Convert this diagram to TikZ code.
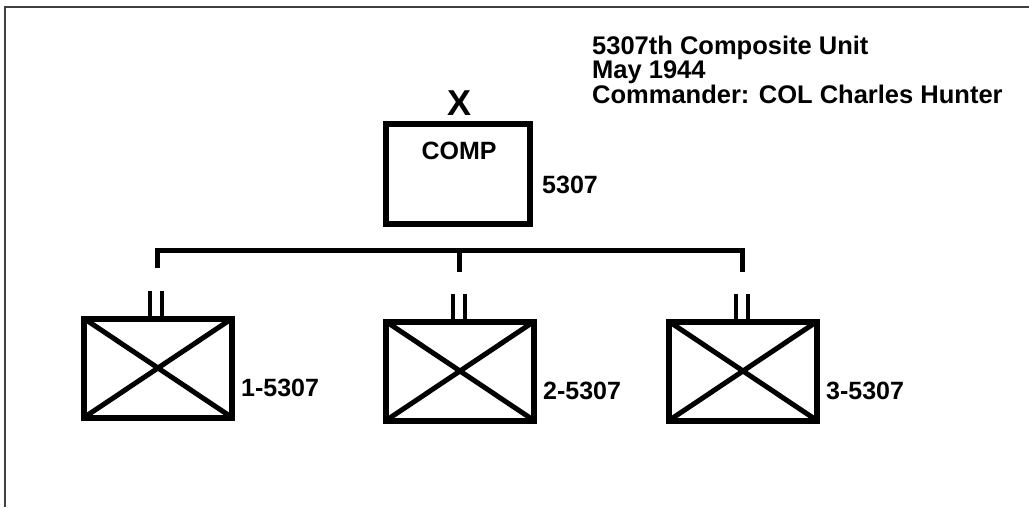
\documentclass[tikz,border=0pt]{standalone}
\usepackage{fontspec}
\setmainfont{Liberation Sans}
\usetikzlibrary{positioning}

\tikzset{
  unitbox/.style={draw,line width=6pt,rectangle,outer sep=0pt,inner sep=0pt},
  bnbox/.style={unitbox,minimum width=148pt,minimum height=99pt},
  crossline/.style={line width=5pt},
  busline/.style={line width=5pt},
  sizebar/.style={line width=4pt},
  lbl/.style={font=\fontsize{25}{25}\selectfont\bfseries,inner sep=0pt}
}

\begin{document}
\begin{tikzpicture}[x=1pt,y=-1pt]
  \useasboundingbox (0,0) rectangle (1029,507);
  % frame
  \draw[black!75,line width=2pt] (5,507) -- (5,7) -- (1029,7);

  % title block
  \node[lbl,anchor=north west,align=left,font=\fontsize{25.5}{22.5}\selectfont\bfseries]
    (title) at (592,36) {5307th Composite Unit\\May 1944\\Commander: COL Charles Hunter};

  % brigade level
  \node[unitbox,minimum width=144pt,minimum height=100pt] (comp) at (458,174) {};
  \node[lbl] (comptxt) at (459,151) {COMP};
  \node[lbl,font=\fontsize{36}{36}\selectfont\bfseries] (echelon) at (460,103) {X};
  \node[lbl,anchor=west] (compnum) at (542,185) {5307};

  % battalions
  \node[bnbox] (bn1) at (158,368) {};
  \node[bnbox] (bn2) at (460,371) {};
  \node[bnbox] (bn3) at (743,371) {};
  \foreach \b/\n in {bn1/1,bn2/2,bn3/3} {
    \draw[crossline] (\b.north west) -- (\b.south east);
    \draw[crossline] (\b.south west) -- (\b.north east);
    \node[lbl,anchor=west,right=9pt of \b.east,yshift=-20pt] (\b num) {\n-5307};
  }

  % battalion size marks
  \foreach \b/\dx in {bn1/-2,bn2/-1,bn3/-1.5} {
    \draw[sizebar] ([xshift=\dx pt-6pt]\b.north) -- ++(0,-28);
    \draw[sizebar] ([xshift=\dx pt+6pt]\b.north) -- ++(0,-28);
  }

  % bus
  \coordinate (busL) at (157,250);
  \coordinate (busM) at (459,250);
  \coordinate (busR) at (742,250);
  \coordinate (top1) at (157,268);
  \coordinate (top2) at (459,272);
  \coordinate (top3) at (742,272);
  \draw[busline] (top1) -- (busL) -- (busR) -- (top3);
  \draw[busline] (busM) -- (top2);
\end{tikzpicture}
\end{document}
